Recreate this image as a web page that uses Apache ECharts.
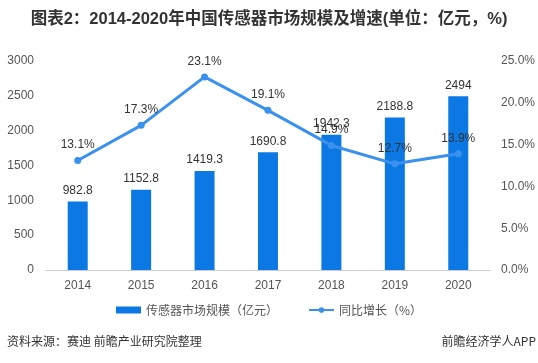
<!DOCTYPE html>
<html><head><meta charset="utf-8">
<script src="https://cdn.jsdelivr.net/npm/echarts@6/dist/echarts.min.js"></script>
<style>html,body{margin:0;padding:0;background:#fff}#c{width:538px;height:363px}</style>
</head><body><div id="c"></div>
<script>
var years = ['2014','2015','2016','2017','2018','2019','2020'];
var marketSize = [982.8, 1152.8, 1419.3, 1690.8, 1942.3, 2188.8, 2494];
var growthRate = [13.1, 17.3, 23.1, 19.1, 14.9, 12.7, 13.9];
var leftTicks = [0, 500, 1000, 1500, 2000, 2500, 3000];
var rightTicks = [0, 5, 10, 15, 20, 25];

var FONT = "'Liberation Sans', Arial, 'Noto Sans CJK SC', sans-serif";
var chart = echarts.init(document.getElementById('c'));
chart.setOption({
  animation: false,
  textStyle: {fontFamily: FONT},
  title: {
    text: '图表2：2014-2020年中国传感器市场规模及增速(单位：亿元，%)',
    left: 'center', top: 6,
    textStyle: {fontSize: 16.5, fontWeight: 'bold', color: '#333', fontFamily: "'Liberation Sans', 'Noto Sans CJK SC', sans-serif"}
  },
  grid: {left: 46, right: 44, top: 61, bottom: 93},
  legend: {
    bottom: 42, left: 'center',
    itemWidth: 25, itemHeight: 7, itemGap: 30,
    textStyle: {fontSize: 12, color: '#555', fontFamily: "'Noto Sans CJK SC', sans-serif"},
    data: [
      {name: '传感器市场规模（亿元）', icon: 'rect'},
      {name: '同比增长（%）'}
    ]
  },
  xAxis: {
    type: 'category', data: years,
    axisLine: {lineStyle: {color: '#ccc'}},
    axisTick: {show: false},
    axisLabel: {color: '#555', fontSize: 12, margin: 10}
  },
  yAxis: [
    {type: 'value', min: leftTicks[0], max: leftTicks[leftTicks.length-1], interval: 500,
     axisLine: {show: false}, axisTick: {show: false}, splitLine: {show: false},
     axisLabel: {color: '#555', fontSize: 12, margin: 12, formatter: function(v){return String(v);}}},
    {type: 'value', min: rightTicks[0], max: rightTicks[rightTicks.length-1], interval: 5,
     axisLine: {show: false}, axisTick: {show: false}, splitLine: {show: false},
     axisLabel: {color: '#555', fontSize: 12, margin: 11, formatter: function(v){return v.toFixed(1)+'%';}}}
  ],
  series: [
    {name: '传感器市场规模（亿元）', type: 'bar', data: marketSize, barWidth: 20,
     itemStyle: {color: '#0b78e3'},
     label: {show: true, position: 'top', distance: 5, color: '#333', fontSize: 12, formatter: function(p){return String(p.value);}}},
    {name: '同比增长（%）', type: 'line', yAxisIndex: 1, data: growthRate,
     symbol: 'circle', symbolSize: 7,
     lineStyle: {width: 3, color: '#3a91ee'}, itemStyle: {color: '#3a91ee'},
     label: {show: true, position: 'top', distance: 6, color: '#333', fontSize: 12,
             formatter: function(p){return p.value.toFixed(1)+'%';}}}
  ],
  graphic: [
    {type: 'text', left: 7, top: 335, style: {text: '资料来源：赛迪 前瞻产业研究院整理', fill: '#333', font: "12px 'Noto Sans CJK SC', sans-serif"}},
    {type: 'text', right: 2, top: 335, style: {text: '前瞻经济学人APP', fill: '#333', font: "12px 'Noto Sans CJK SC', sans-serif"}}
  ]
});
</script></body></html>
